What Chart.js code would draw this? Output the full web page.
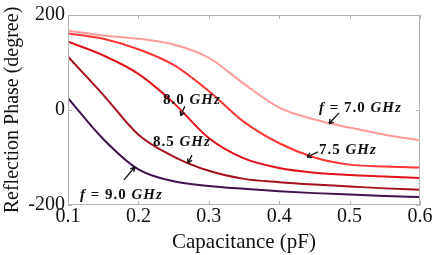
<!DOCTYPE html>
<html>
<head>
<meta charset="utf-8">
<script src="https://cdn.jsdelivr.net/npm/chart.js@4.4.1/dist/chart.umd.min.js"></script>
<style>
  html, body { margin: 0; padding: 0; background: #ffffff; }
  #wrap { width: 436px; height: 255px; position: relative; }
</style>
</head>
<body>
<div id="wrap"><canvas id="c" width="436" height="255"></canvas></div>
<script>
// ---- data ----
const capacitance = [0.1, 0.15, 0.2, 0.25, 0.3, 0.35, 0.4, 0.45, 0.5, 0.55, 0.6];
const phase70 = [167, 157, 150, 138, 110, 55, 5, -20, -37, -52, -64];
const phase75 = [161, 150, 128, 95, 40, -25, -70, -100, -115, -119, -121];
const phase80 = [144, 115, 76, 15, -59, -102, -122, -132, -137, -140, -143];
const phase85 = [112, 32, -52, -98, -128, -145, -152, -157, -161, -165, -168];
const phase90 = [25, -61, -125, -150, -160, -166, -171, -175, -178, -181, -183];
const seriesNames = ['7.0 GHz', '7.5 GHz', '8.0 GHz', '8.5 GHz', '9.0 GHz'];
const xTicks = [0.1, 0.2, 0.3, 0.4, 0.5, 0.6];
const yTicks = [-200, 0, 200];
const labelTexts = ['f = 7.0 GHz', '7.5 GHz', '8.0 GHz', '8.5 GHz', 'f = 9.0 GHz'];
// label anchor (left,middle) and arrow start/end in data coordinates
const labelAnchors = [[0.4565, 4], [0.4565, -84], [0.235, 21], [0.2207, -67], [0.117, -179]];
const arrowFrom = [[0.485, -6], [0.455, -88], [0.266, 8], [0.276, -95], [0.1795, -147]];
const arrowTo = [[0.4707, -29], [0.4395, -99], [0.260, -12], [0.2705, -112], [0.195, -120]];

const colors = ['#ff9a9a', '#ff3535', '#e0101a', '#a4101c', '#40124e'];
const allSeries = [phase70, phase75, phase80, phase85, phase90];

const serif = '"Liberation Serif", "DejaVu Serif", serif';

const frameAndLabels = {
  id: 'frameAndLabels',
  afterDatasetsDraw(chart) {
    const { ctx, chartArea: a, scales: { x, y } } = chart;
    ctx.save();
    ctx.strokeStyle = '#b4b4b4';
    ctx.lineWidth = 1;
    ctx.strokeRect(a.left + 0.5, a.top + 0.5, a.right - a.left - 1, a.bottom - a.top - 1);
    ctx.beginPath();
    xTicks.forEach(v => {
      const px = Math.round(x.getPixelForValue(v)) + 0.5;
      ctx.moveTo(px, a.bottom); ctx.lineTo(px, a.bottom - 4);
      ctx.moveTo(px, a.top); ctx.lineTo(px, a.top + 4);
    });
    yTicks.forEach(v => {
      const py = Math.round(y.getPixelForValue(v)) + 0.5;
      ctx.moveTo(a.left, py); ctx.lineTo(a.left + 4, py);
      ctx.moveTo(a.right, py); ctx.lineTo(a.right - 4, py);
    });
    ctx.stroke();

    // labels
    ctx.fillStyle = '#111';
    ctx.textBaseline = 'middle';
    ctx.textAlign = 'left';
    try { ctx.letterSpacing = '1px'; } catch (e) {}
    labelTexts.forEach((txt, i) => {
      let px = x.getPixelForValue(labelAnchors[i][0]);
      const py = y.getPixelForValue(labelAnchors[i][1]);
      const tokens = txt.split(/(\s+)/);
      tokens.forEach(tok => {
        const ital = /^[A-Za-z]+$/.test(tok);
        ctx.font = (ital ? 'italic ' : '') + 'bold 15px ' + serif;
        ctx.fillText(tok, px, py);
        px += ctx.measureText(tok).width;
      });
    });
    try { ctx.letterSpacing = '0px'; } catch (e) {}

    // arrows
    ctx.strokeStyle = '#111';
    ctx.lineWidth = 1.3;
    arrowFrom.forEach((f, i) => {
      const x1 = x.getPixelForValue(f[0]), y1 = y.getPixelForValue(f[1]);
      const x2 = x.getPixelForValue(arrowTo[i][0]), y2 = y.getPixelForValue(arrowTo[i][1]);
      const ang = Math.atan2(y2 - y1, x2 - x1);
      const h = 5;
      ctx.beginPath();
      ctx.moveTo(x1, y1); ctx.lineTo(x2, y2);
      ctx.moveTo(x2, y2); ctx.lineTo(x2 - h * Math.cos(ang - 0.5), y2 - h * Math.sin(ang - 0.5));
      ctx.moveTo(x2, y2); ctx.lineTo(x2 - h * Math.cos(ang + 0.5), y2 - h * Math.sin(ang + 0.5));
      ctx.stroke();
    });
    ctx.restore();
  }
};

const datasets = allSeries.map((s, i) => ({
  label: seriesNames[i],
  data: capacitance.map((c, j) => ({ x: c, y: s[j] })),
  borderColor: colors[i],
  backgroundColor: colors[i],
  borderWidth: 2,
  pointRadius: 0,
  cubicInterpolationMode: 'monotone',
  fill: false
}));

new Chart(document.getElementById('c'), {
  type: 'line',
  data: { datasets },
  options: {
    responsive: false,
    animation: false,
    devicePixelRatio: 1,
    layout: { padding: { top: 15, right: 16, left: 0, bottom: 0 } },
    plugins: { legend: { display: false }, tooltip: { enabled: false } },
    scales: {
      x: {
        type: 'linear', min: 0.1, max: 0.6,
        afterBuildTicks(s) { s.ticks = xTicks.map(v => ({ value: v })); },
        afterFit(s) { s.height = 50; },
        grid: { display: false, drawTicks: false },
        border: { display: false },
        ticks: { color: '#111', font: { family: serif, size: 20 }, padding: 0, maxRotation: 0,
                 callback: v => v.toFixed(1) },
        title: { display: true, text: 'Capacitance (pF)', color: '#111',
                 font: { family: serif, size: 21 }, padding: { top: 0, bottom: 0 } }
      },
      y: {
        type: 'linear', min: -200, max: 200,
        afterBuildTicks(s) { s.ticks = yTicks.map(v => ({ value: v })); },
        afterFit(s) { s.width = 68; },
        grid: { display: false, drawTicks: false },
        border: { display: false },
        ticks: { color: '#111', font: { family: serif, size: 20 }, padding: 3,
                 callback: v => String(v) },
        title: { display: true, text: 'Reflection Phase (degree)', color: '#111',
                 font: { family: serif, size: 20 }, padding: { top: 1, bottom: 0 } }
      }
    }
  },
  plugins: [frameAndLabels]
});
</script>
</body>
</html>
